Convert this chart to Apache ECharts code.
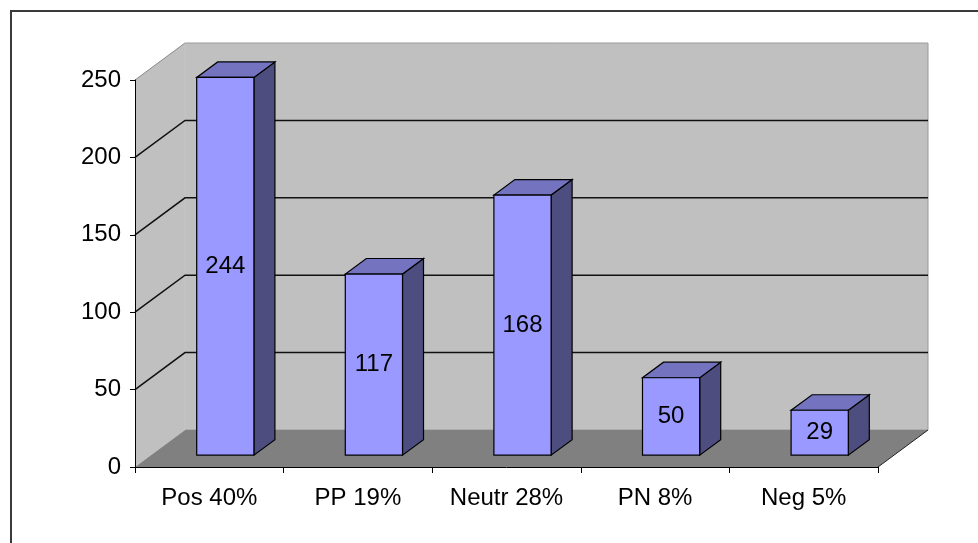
<!DOCTYPE html>
<html><head><meta charset="utf-8">
<script src="https://cdn.jsdelivr.net/npm/echarts@6/dist/echarts.min.js"></script>
<style>html,body{margin:0;padding:0;background:#fff}#c{width:978px;height:543px}</style>
</head><body><div id="c"></div>
<script>
const categories = ['Pos 40%', 'PP 19%', 'Neutr 28%', 'PN 8%', 'Neg 5%'];
const values = [244, 117, 168, 50, 29];
const yTicks = [0, 50, 100, 150, 200, 250];

const DX = 50, DY = -37;      // wall depth offset (px)
const F0 = 0.32, F1 = 0.74;   // bar front/back depth fractions
const FONT = 'Arial, "Liberation Sans", sans-serif';

const chart = echarts.init(document.getElementById('c'), null, {renderer: 'canvas'});

function renderWalls(params, api) {
  const cs = params.coordSys;
  const x0 = cs.x, x1 = cs.x + cs.width;
  const yb = api.coord([0, yTicks[0]])[1];
  const yt = api.coord([0, yTicks[yTicks.length - 1]])[1];
  const children = [];
  children.push({type: 'polygon', shape: {points: [[x0, yb], [x0, yt], [x0 + DX, yt + DY], [x0 + DX, yb + DY]]},
    style: {fill: '#c0c0c0', stroke: null}});
  children.push({type: 'rect', shape: {x: x0 + DX, y: yt + DY, width: x1 - x0, height: yb - yt},
    style: {fill: '#c0c0c0', stroke: '#9a9a9a', lineWidth: 1}});
  children.push({type: 'polygon', shape: {points: [[x0, yb], [x1, yb], [x1 + DX, yb + DY], [x0 + DX, yb + DY]]},
    style: {fill: '#808080', stroke: null}});
  children.push({type: 'line', shape: {x1: x0 + DX, y1: yt + DY, x2: x0 + DX, y2: yb + DY},
    style: {stroke: '#d8d8d8', lineWidth: 1}});
  yTicks.forEach((t, i) => {
    if (i === 0) return;
    const y = api.coord([0, t])[1];
    const last = i === yTicks.length - 1;
    children.push({type: 'polyline', shape: {points: last ? [[x0, y], [x0 + DX, y + DY]] : [[x0, y], [x0 + DX, y + DY], [x1 + DX, y + DY]]},
      style: {stroke: last ? '#8a8a8a' : '#111', lineWidth: last ? 1 : 1.5, fill: null}});
  });
  children.push({type: 'line', shape: {x1: x1, y1: yb, x2: x1 + DX, y2: yb + DY},
    style: {stroke: '#222', lineWidth: 1}});
  return {type: 'group', children: children};
}

function renderBar(params, api) {
  const idx = api.value(0), v = api.value(1);
  const base = api.coord([idx, 0]);
  const top = api.coord([idx, v]);
  const bw = api.size([1, 0])[0];
  const w = bw * 0.385;
  const fx = base[0] - w / 2 + DX * F0;
  const fy0 = base[1] + DY * F0;
  const fy1 = top[1] + DY * F0;
  const ddx = DX * (F1 - F0), ddy = DY * (F1 - F0);
  const ls = {stroke: '#000', lineWidth: 1.2, lineJoin: 'miter'};
  return {type: 'group', children: [
    {type: 'polygon', shape: {points: [[fx + w, fy1], [fx + w, fy0], [fx + w + ddx, fy0 + ddy], [fx + w + ddx, fy1 + ddy]]},
      style: Object.assign({fill: '#4d4d80'}, ls)},
    {type: 'polygon', shape: {points: [[fx, fy1], [fx + w, fy1], [fx + w + ddx, fy1 + ddy], [fx + ddx, fy1 + ddy]]},
      style: Object.assign({fill: '#7373bf'}, ls)},
    {type: 'rect', shape: {x: fx, y: fy1, width: w, height: fy0 - fy1},
      style: Object.assign({fill: '#9999ff'}, ls)},
    {type: 'text', x: fx + w / 2, y: (fy0 + fy1) / 2,
      style: {text: String(v), fill: '#000', font: '24px ' + FONT, align: 'center', verticalAlign: 'middle'}}
  ]};
}

chart.setOption({
  animation: false,
  backgroundColor: '#fff',
  graphic: [{type: 'rect', shape: {x: 11, y: 11, width: 1200, height: 800},
    style: {fill: null, stroke: '#3a3a3a', lineWidth: 2}, z: 100}],
  grid: {left: 135, right: 100, top: 80, bottom: 76},
  xAxis: {
    type: 'category', data: categories, boundaryGap: true, z: 10,
    axisLine: {lineStyle: {color: '#000', width: 1}},
    axisTick: {show: true, length: 6, interval: 0, lineStyle: {color: '#000'}},
    axisLabel: {color: '#000', fontSize: 24, fontFamily: FONT, margin: 19, interval: 0},
    splitLine: {show: false}
  },
  yAxis: {
    type: 'value', min: yTicks[0], max: yTicks[yTicks.length - 1], interval: yTicks[1] - yTicks[0], z: 10,
    axisLine: {show: true, lineStyle: {color: '#000', width: 1}},
    axisTick: {show: true, length: 5, lineStyle: {color: '#000'}},
    axisLabel: {color: '#000', fontSize: 24, fontFamily: FONT, margin: 14},
    splitLine: {show: false}
  },
  series: [
    {type: 'custom', name: 'walls', z: 1, silent: true, renderItem: renderWalls, data: [[0, 0]], clip: false},
    {type: 'custom', name: 'bars', z: 2, renderItem: renderBar,
      data: values.map((v, i) => [i, v]), encode: {x: 0, y: 1}, clip: false}
  ]
});
</script></body></html>
